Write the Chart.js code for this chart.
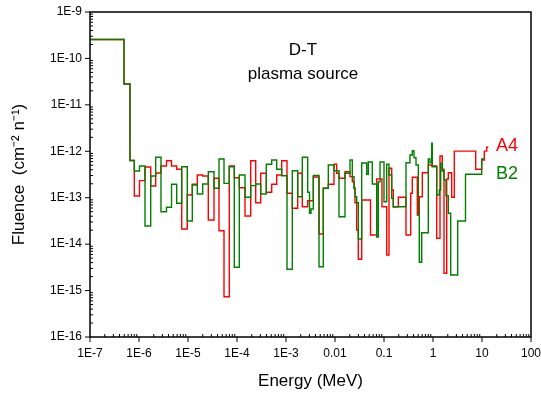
<!DOCTYPE html>
<html>
<head>
<meta charset="utf-8">
<script src="https://cdn.jsdelivr.net/npm/chart.js@4.4.1/dist/chart.umd.min.js"></script>
<style>
html, body { margin: 0; padding: 0; background: #fff; }
</style>
</head>
<body>
<canvas id="fluenceChart" width="541" height="396"></canvas>
<script>
// group lower edges in MeV, the last entry is the upper edge of the last group
var energy = [1.0e-7, 4.94e-7, 6.55e-7, 8.02e-7, 1.024e-6, 1.326e-6, 1.733e-6, 2.19e-6, 2.81e-6, 3.64e-6,
  4.61e-6, 5.88e-6, 7.44e-6, 9.67e-6, 1.224e-5, 1.548e-5, 1.995e-5, 2.596e-5, 3.394e-5, 4.29e-5,
  5.43e-5, 6.96e-5, 8.81e-5, 1.114e-4, 1.457e-4, 1.904e-4, 2.408e-4, 3.045e-4, 3.963e-4, 5.11e-4,
  6.46e-4, 8.17e-4, 1.048e-3, 1.345e-3, 1.733e-3, 2.151e-3, 2.773e-3, 3.017e-3, 3.237e-3, 3.607e-3,
  4.716e-3, 5.77e-3, 7.30e-3, 9.53e-3, 1.083e-2, 1.207e-2, 1.600e-2, 2.024e-2, 2.255e-2, 2.443e-2,
  2.560e-2, 2.773e-2, 2.988e-2, 3.506e-2, 4.436e-2, 4.781e-2, 5.30e-2, 5.77e-2, 7.10e-2, 7.65e-2,
  8.29e-2, 9.10e-2, 0.100, 0.1135, 0.1265, 0.1436, 0.1548, 0.1677, 0.1958, 0.2812,
  0.3394, 0.3506, 0.3781, 0.4095, 0.4499, 0.4781, 0.5012, 0.5253, 0.5882, 0.6049,
  0.8017, 0.8685, 0.9408, 0.9676, 1.190, 1.345, 1.390, 1.436, 1.548, 1.677,
  1.842, 1.904, 2.052, 2.297, 2.407, 2.721, 3.193, 4.606, 7.436, 9.86,
  10.98, 11.14, 12.47, 13.45];

// fluence per group (cm-2 n-1)
var fluenceA4 = [2.56e-10, 2.81e-11, 6.33e-13, 1.09e-13, 2.33e-13, 4.59e-13, 1.79e-13, 3.41e-13, 4.82e-13, 6.27e-13,
  4.82e-13, 4.09e-13, 2.12e-14, 1.14e-13, 1.95e-13, 3.09e-13, 2.94e-13, 3.31e-14, 2.62e-13, 1.95e-14,
  7.38e-16, 4.82e-13, 2.70e-13, 1.64e-13, 4.04e-14, 6.27e-13, 7.81e-14, 3.36e-13, 1.31e-13, 1.95e-13,
  3.09e-13, 6.27e-13, 1.25e-13, 5.92e-14, 3.36e-13, 6.41e-14, 8.63e-14, 8.63e-14, 8.63e-14, 2.79e-13,
  1.65e-14, 1.60e-13, 1.95e-13, 5.25e-13, 3.36e-13, 2.62e-13, 3.63e-13, 2.84e-13, 2.21e-13, 1.60e-13,
  7.81e-14, 2.02e-14, 4.72e-15, 8.93e-14, 8.93e-14, 8.93e-14, 1.57e-14, 1.57e-14, 2.53e-13, 2.53e-13,
  2.53e-13, 6.41e-14, 6.41e-14, 5.84e-15, 4.30e-13, 1.47e-13, 6.41e-14, 6.41e-14, 1.02e-13, 1.57e-14,
  1.57e-14, 1.25e-13, 2.75e-13, 2.75e-13, 2.75e-13, 4.24e-14, 4.24e-14, 1.05e-13, 1.05e-13, 3.46e-13,
  5.07e-13, 5.07e-13, 4.82e-13, 4.82e-13, 1.34e-14, 1.34e-14, 7.92e-13, 7.92e-13, 4.09e-13, 2.36e-15,
  2.36e-15, 2.53e-13, 3.46e-13, 3.46e-13, 1.02e-13, 1.01e-12, 1.01e-12, 1.01e-12, 4.09e-13, 6.49e-13,
  6.49e-13, 1.01e-12, 1.22e-12];

var fluenceB2 = [2.56e-10, 2.81e-11, 6.33e-13, 3.76e-13, 4.82e-13, 2.46e-14, 2.94e-13, 7.42e-13, 5.0e-14, 6.22e-14,
  1.95e-13, 7.58e-14, 4.66e-13, 3.15e-14, 1.88e-13, 1.20e-13, 1.97e-13, 3.63e-13, 1.60e-13, 6.82e-13,
  2.04e-13, 4.66e-13, 3.17e-15, 3.09e-13, 1.02e-13, 1.82e-13, 1.97e-13, 1.20e-13, 5.25e-13, 6.49e-13,
  4.09e-13, 2.98e-13, 2.87e-15, 3.82e-13, 1.05e-13, 7.42e-13, 1.31e-13, 4.62e-14, 5.72e-14, 3.01e-13,
  3.27e-15, 1.60e-13, 5.07e-13, 3.82e-13, 3.82e-13, 3.90e-14, 3.36e-13, 6.49e-13, 2.84e-13, 1.60e-13,
  1.05e-13, 7.81e-14, 1.29e-14, 5.60e-13, 3.19e-13, 5.88e-13, 5.88e-13, 1.97e-13, 1.43e-14, 2.21e-13,
  5.88e-13, 5.88e-13, 8.21e-14, 5.25e-13, 3.09e-13, 9.72e-14, 6.31e-14, 6.41e-14, 6.41e-14, 5.68e-13,
  8.32e-13, 8.32e-13, 1.03e-12, 7.28e-13, 5.07e-13, 5.07e-13, 4.24e-14, 4.07e-15, 1.76e-14, 1.76e-14,
  6.82e-13, 5.68e-13, 1.49e-12, 4.66e-13, 1.14e-13, 1.47e-13, 1.47e-13, 5.51e-13, 3.76e-13, 2.41e-13,
  1.10e-13, 1.10e-13, 4.62e-14, 2.17e-15, 2.17e-15, 2.17e-15, 3.15e-14, 3.19e-13, 3.19e-13, 6.82e-13];

var xTicks = [1e-7, 1e-6, 1e-5, 1e-4, 1e-3, 1e-2, 1e-1, 1, 10, 100];
var xLabels = ["1E-7", "1E-6", "1E-5", "1E-4", "1E-3", "0.01", "0.1", "1", "10", "100"];
var yTicks = [1e-16, 1e-15, 1e-14, 1e-13, 1e-12, 1e-11, 1e-10, 1e-9];
var yLabels = ["1E-16", "1E-15", "1E-14", "1E-13", "1E-12", "1E-11", "1E-10", "1E-9"];

var FONT = "'Liberation Sans', Arial, sans-serif";

function steps(vals) {
  var pts = [];
  for (var i = 0; i < vals.length; i++) pts.push({x: energy[i], y: vals[i]});
  pts.push({x: energy[vals.length], y: vals[vals.length - 1]});
  return pts;
}

function minorValues(ticks) {
  var out = [];
  for (var i = 0; i < ticks.length - 1; i++)
    for (var k = 2; k <= 9; k++) out.push(ticks[i] * k);
  return out;
}

// frame, ticks and the texts inside the plot
var framePlugin = {
  id: 'frame',
  afterDraw: function(chart) {
    var ctx = chart.ctx, a = chart.chartArea;
    var xs = chart.scales.x, ys = chart.scales.y;
    ctx.save();
    ctx.strokeStyle = '#000';
    ctx.lineWidth = 1.5;
    ctx.strokeRect(a.left, a.top, a.right - a.left, a.bottom - a.top);
    ctx.lineWidth = 1;
    ctx.beginPath();
    xTicks.forEach(function(v) {
      var p = xs.getPixelForValue(v);
      ctx.moveTo(p, a.bottom); ctx.lineTo(p, a.bottom + 5);
    });
    minorValues(xTicks).forEach(function(v) {
      var p = xs.getPixelForValue(v);
      ctx.moveTo(p, a.bottom); ctx.lineTo(p, a.bottom - 3);
    });
    yTicks.forEach(function(v) {
      var p = ys.getPixelForValue(v);
      ctx.moveTo(a.left, p); ctx.lineTo(a.left - 5, p);
    });
    minorValues(yTicks).forEach(function(v) {
      var p = ys.getPixelForValue(v);
      ctx.moveTo(a.left, p); ctx.lineTo(a.left + 3, p);
    });
    ctx.stroke();

    ctx.textAlign = 'center';
    ctx.textBaseline = 'middle';
    ctx.fillStyle = '#000';
    ctx.font = '17px ' + FONT;
    ctx.fillText('D-T', 303, 50);
    ctx.fillText('plasma source', 303, 74);
    ctx.textAlign = 'left';
    ctx.font = '18px ' + FONT;
    ctx.fillStyle = '#ff0000';
    ctx.fillText('A4', 496, 146);
    ctx.fillStyle = '#008000';
    ctx.fillText('B2', 496, 174);
    ctx.restore();
  }
};

new Chart(document.getElementById('fluenceChart'), {
  type: 'line',
  data: {
    datasets: [{
      label: 'B2',
      data: steps(fluenceB2),
      borderColor: '#008000',
      borderWidth: 1.4,
      pointRadius: 0,
      stepped: true,
      fill: false
    }, {
      label: 'A4',
      data: steps(fluenceA4),
      borderColor: '#ff0000',
      borderWidth: 1.4,
      pointRadius: 0,
      stepped: true,
      fill: false
    }]
  },
  options: {
    responsive: false,
    animation: false,
    devicePixelRatio: 1,
    layout: { padding: { top: 12, right: 10, left: 0, bottom: 0 } },
    plugins: { legend: { display: false }, tooltip: { enabled: false } },
    scales: {
      x: {
        type: 'logarithmic',
        min: 1e-7, max: 100,
        afterBuildTicks: function(s) { s.ticks = xTicks.map(function(v) { return {value: v}; }); },
        afterFit: function(s) { s.height = 59; s.paddingLeft = 0; s.paddingRight = 0; },
        grid: { display: false, drawTicks: false },
        border: { display: false },
        ticks: {
          autoSkip: false, maxRotation: 0, padding: 9, color: '#000',
          font: { family: FONT, size: 12 },
          callback: function(v) { var i = xTicks.indexOf(v); return i < 0 ? '' : xLabels[i]; }
        },
        title: { display: true, text: 'Energy (MeV)', color: '#000', font: { family: FONT, size: 17 }, padding: { bottom: 4 } }
      },
      y: {
        type: 'logarithmic',
        min: 1e-16, max: 1e-9,
        afterBuildTicks: function(s) { s.ticks = yTicks.map(function(v) { return {value: v}; }); },
        afterFit: function(s) { s.width = 90; s.paddingTop = 0; s.paddingBottom = 0; },
        grid: { display: false, drawTicks: false },
        border: { display: false },
        ticks: {
          autoSkip: false, padding: 8, color: '#000',
          font: { family: FONT, size: 12 },
          callback: function(v) { var i = yTicks.indexOf(v); return i < 0 ? '' : yLabels[i]; }
        },
        title: { display: true, text: 'Fluence  (cm\u207B\u00B2 n\u207B\u00B9)', color: '#000', font: { family: FONT, size: 17 }, padding: { top: 9 } }
      }
    }
  },
  plugins: [framePlugin]
});
</script>
</body>
</html>
